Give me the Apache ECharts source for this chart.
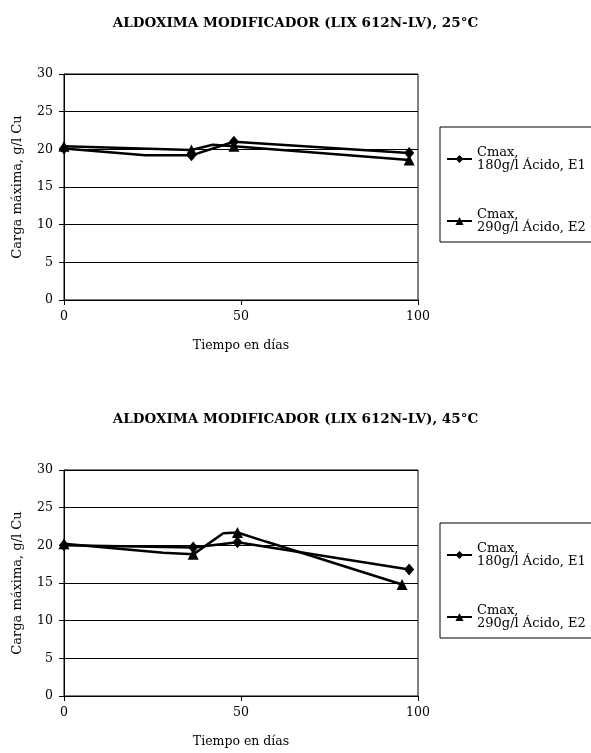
<!DOCTYPE html>
<html><head><meta charset="utf-8">
<script src="https://cdn.jsdelivr.net/npm/echarts@6/dist/echarts.min.js"></script>
<style>html,body{margin:0;padding:0;background:#fff}#c{width:591px;height:753px}</style>
</head><body><div id="c"></div>
<script>
const titles = ['ALDOXIMA MODIFICADOR (LIX 612N-LV), 25°C', 'ALDOXIMA MODIFICADOR (LIX 612N-LV), 45°C'];
const seriesNames = ['Cmax,\n180g/l Ácido, E1', 'Cmax,\n290g/l Ácido, E2'];
const xAxisName = 'Tiempo en días';
const yAxisName = 'Carga máxima, g/l Cu';
// [day, value, marked]
const top25_E1 = [[0, 20.1, 1], [23, 19.2, 0], [36, 19.2, 1], [48, 21.0, 1], [97.5, 19.5, 1]];
const top25_E2 = [[0, 20.4, 1], [36, 19.9, 1], [42, 20.6, 0], [48, 20.4, 1], [97.5, 18.6, 1]];
const bot45_E1 = [[0, 20.0, 1], [36.5, 19.7, 1], [49, 20.4, 1], [97.5, 16.8, 1]];
const bot45_E2 = [[0, 20.2, 1], [28, 19.0, 0], [36.5, 18.8, 1], [45, 21.6, 0], [49, 21.7, 1], [57, 20.5, 0], [95.5, 14.8, 1]];

const FONT = 'DejaVu Serif';
function pts(arr) {
  return arr.map(p => p[2] ? { value: [p[0], p[1]] } : { value: [p[0], p[1]], symbol: 'none' });
}
const gridTops = [74, 470];
const grids = gridTops.map(t => ({ left: 64, width: 354, top: t, height: 226, show: true, borderColor: '#000', borderWidth: 1, backgroundColor: 'transparent' }));
const xAxes = [0, 1].map(i => ({
  type: 'value', gridIndex: i, min: 0, max: 100, interval: 50,
  name: xAxisName, nameLocation: 'middle', nameGap: 39,
  nameTextStyle: { fontFamily: FONT, fontSize: 12.5, color: '#000' },
  axisLine: { show: true, lineStyle: { color: '#000', width: 1 } },
  axisTick: { show: true, length: 5, inside: false, lineStyle: { color: '#000' } },
  axisLabel: { fontFamily: FONT, fontSize: 12.5, color: '#000', margin: 10 },
  splitLine: { show: false }
}));
const yAxes = [0, 1].map(i => ({
  type: 'value', gridIndex: i, min: 0, max: 30, interval: 5,
  name: yAxisName, nameLocation: 'middle', nameGap: 40, nameRotate: 90,
  nameTextStyle: { fontFamily: FONT, fontSize: 13, color: '#000' },
  axisLine: { show: true, lineStyle: { color: '#000', width: 1 } },
  axisTick: { show: true, length: 5, lineStyle: { color: '#000' } },
  axisLabel: { fontFamily: FONT, fontSize: 12.5, color: '#000', margin: 11 },
  splitLine: { show: true, lineStyle: { color: '#000', width: 1 } }
}));
function mk(name, data, gi, symbol) {
  return {
    name: name, type: 'line', xAxisIndex: gi, yAxisIndex: gi, data: pts(data),
    symbol: symbol, symbolSize: symbol === 'diamond' ? [10, 12] : 11,
    showAllSymbol: true, animation: false,
    lineStyle: { color: '#000', width: 2.5 },
    itemStyle: { color: '#000' }
  };
}
const legends = [127, 523].map(t => ({
  orient: 'vertical', left: 440, top: t,
  padding: [19, 40, 8, 6], itemGap: 36, itemWidth: 25, itemHeight: 10,
  borderColor: '#000', borderWidth: 1, backgroundColor: '#fff',
  textStyle: { fontFamily: FONT, fontSize: 13, color: '#000', lineHeight: 13 },
  data: seriesNames
}));
const chart = echarts.init(document.getElementById('c'), null, { renderer: 'canvas' });
chart.setOption({
  backgroundColor: '#fff',
  animation: false,
  title: [
    { text: titles[0], left: 'center', top: 11, textStyle: { fontFamily: FONT, fontSize: 13.5, fontWeight: 'bold', color: '#000' } },
    { text: titles[1], left: 'center', top: 407, textStyle: { fontFamily: FONT, fontSize: 13.5, fontWeight: 'bold', color: '#000' } }
  ],
  legend: legends,
  grid: grids,
  xAxis: xAxes,
  yAxis: yAxes,
  series: [
    mk(seriesNames[0], top25_E1, 0, 'diamond'),
    mk(seriesNames[1], top25_E2, 0, 'triangle'),
    mk(seriesNames[0], bot45_E1, 1, 'diamond'),
    mk(seriesNames[1], bot45_E2, 1, 'triangle')
  ]
});
</script></body></html>
